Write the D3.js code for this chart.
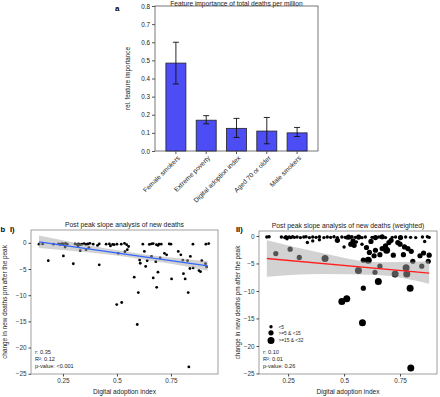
<!DOCTYPE html>
<html><head><meta charset="utf-8">
<script src="https://cdn.jsdelivr.net/npm/d3@7"></script>
<style>body{margin:0;background:#fff}svg{display:block}text{font-family:"Liberation Sans",Arial,sans-serif}</style>
</head><body>
<svg id="c" width="440" height="397"></svg>
<script>
// ---- Panel a data ----
const barCats = ["Female smokers","Extreme poverty","Digital adoption index","Aged 70 or older","Male smokers"];
const barVals = [0.485,0.17,0.125,0.11,0.10];
const barErrLo = [0.37,0.15,0.075,0.04,0.08];
const barErrHi = [0.60,0.195,0.18,0.185,0.13];
const barTicks = [0,0.1,0.2,0.3,0.4,0.5,0.6,0.7,0.8];

// ---- Panel b I data ----
const ptsIx = [0.139,0.156,0.206,0.23,0.238,0.245,0.252,0.262,0.27,0.306,0.315,0.322,0.33,0.338,0.348,0.357,0.366,0.375,0.39,0.418,0.45,0.465,0.48,0.487,0.5,0.52,0.535,0.545,0.62,0.65,0.66,0.668,0.683,0.695,0.705,0.742,0.75,0.852,0.912,0.925,
 0.26,0.32,0.37,0.41,0.47,0.554,0.69,
 0.182,0.252,0.298,0.33,0.357,0.418,0.506,0.537,0.548,0.58,0.605,0.608,0.627,0.633,0.64,0.66,0.668,0.68,0.684,0.69,0.70,0.72,0.73,0.753,0.784,0.796,0.805,0.808,0.816,0.827,0.84,0.853,0.88,0.893,0.91,0.915,0.838,0.887,
 0.599,0.83,0.499,0.522,0.594,0.833];
const ptsIy = [-0.25,-0.2,-0.25,-0.2,-0.3,-0.15,-0.2,-0.1,-0.25,-0.2,-0.3,-0.2,-0.35,-0.25,-0.15,-0.3,-0.2,-0.1,-0.25,-0.2,-0.25,-0.2,-0.3,-0.35,-0.25,-0.25,-0.1,-0.35,-0.25,-0.3,-0.2,-0.15,-0.35,-0.25,-0.25,-0.2,-0.25,-0.25,-0.25,-0.15,
 -0.8,-0.6,-0.9,-0.5,-0.6,-0.7,-0.5,
 -3.4,-2.5,-4.0,-1.5,-1.3,-4.2,-2.0,-1.7,-1.3,-6.55,-3.3,-3.9,-1.65,-4.5,-3.4,-2.6,-6.7,-3.6,-8.5,-5.6,-2.9,-2.0,-2.3,-6.9,-1.65,-2.3,-3.3,-5.9,-6.9,-3.4,-2.6,-4.8,-5.3,-3.4,-4.0,-4.6,-4.9,-5.5,
 -9.5,-9.5,-11.8,-11.4,-15.6,-23.7];
const fitIx = [0.139,0.92];
const fitIy = [0.2,-4.41];
const ciIx = [0.139,0.3,0.45,0.6,0.75,0.92];
const ciIlo = [-1.0,-1.55,-2.18,-3.02,-4.0,-5.31];
const ciIhi = [1.4,0.05,-1.08,-2.02,-2.8,-3.51];

// ---- Panel b II data ----
const ptsIIx = [0.155,0.165,0.22,0.235,0.24,0.248,0.255,0.262,0.27,0.278,0.29,0.305,0.32,0.33,0.345,0.36,0.375,0.39,0.41,0.425,0.44,0.455,0.47,0.49,0.505,0.512,0.52,0.528,0.535,0.55,0.565,0.58,0.595,0.625,0.64,0.655,0.67,0.685,0.715,0.73,0.752,0.775,0.797,0.82,0.85,0.872,0.88,
 0.245,0.336,0.36,0.39,0.47,0.5,0.53,0.545,0.555,0.6,0.613,0.634,0.64,0.66,0.67,0.685,0.69,0.70,0.72,0.75,0.765,0.77,0.785,0.80,0.807,0.839,0.847,0.855,0.876,0.88,0.86,0.58,0.54,0.62,0.71,0.74,
 0.195,0.259,0.30,0.415,0.564,0.586,0.608,0.586,0.638,0.653,0.66,0.728,0.777,0.78,0.795,0.49,0.512,0.582,0.798];
const ptsIIy = [-0.2,-0.15,-0.2,-0.3,-0.15,-0.25,-0.2,-0.3,-0.15,-0.25,-0.2,-0.3,-0.2,-0.15,-0.3,-0.2,-0.25,-0.15,-0.3,-0.2,-0.25,-0.15,-0.3,-0.2,-0.25,-0.35,-0.2,-0.3,-0.15,-0.25,-0.2,-0.3,-0.2,-0.25,-0.3,-0.2,-0.15,-0.3,-0.25,-0.2,-0.3,-0.2,-0.25,-0.3,-0.2,-0.15,-0.25,
 -0.5,-1.2,-0.9,-0.7,-0.8,-2.0,-1.5,-1.7,-1.1,-2.1,-3.0,-3.6,-2.6,-3.4,-2.3,-1.8,-2.6,-1.2,-3.5,-1.5,-3.4,-2.0,-2.3,-2.8,-4.6,-3.6,-5.5,-3.1,-4.6,-3.5,-1.0,-1.5,-0.9,-1.0,-0.8,-1.2,
 -3.2,-2.4,-3.9,-4.1,-6.3,-4.4,-4.4,-9.5,-6.6,-8.3,-5.5,-6.9,-5.8,-6.9,-9.5,-11.9,-11.4,-15.8,-24.0];
const ptsIIsize = [0,0,0,0,0,0,0,0,0,0,0,0,0,0,0,0,0,0,0,0,0,0,0,0,0,0,1,0,0,0,1,0,0,0,1,0,1,0,0,0,1,0,0,0,0,0,0,
 0,0,0,0,1,0,1,1,0,1,1,1,1,1,1,1,2,1,1,1,1,1,1,1,1,1,1,1,1,1,0,0,1,1,1,1,
 1,1,1,2,2,1,2,1,1,2,1,2,2,2,2,2,2,2,2];
const fitIIx = [0.155,0.88];
const fitIIy = [-4.1,-6.75];
const ciIIx = [0.155,0.4,0.65,0.88];
const ciIIlo = [-7.4,-6.9,-7.1,-8.7];
const ciIIhi = [-0.8,-3.1,-4.8,-4.6];
const sizeLabels = ["<5",">=5 & <15",">=15 & <32"];
const sizeR = [1.7,2.6,3.5];
const statsI = ["r: 0.35","R²: 0.12","p-value: <0.001"];
const statsII = ["r: 0.10","R²: 0.01","p-value: 0.26"];
const scatTicksX = [0.25,0.5,0.75];
const scatTicksY = [0,-5,-10,-15,-20,-25];

const svg = d3.select("#c");

// ================= Panel a =================
{
  const L=155,R=318,T=6,B=151;
  const x = d3.scaleBand().domain(barCats).range([L,R]).paddingInner(0.34).paddingOuter(0.36);
  const y = d3.scaleLinear().domain([0,0.8]).range([B,T]);
  const g = svg.append("g");
  g.append("rect").attr("x",L).attr("y",T).attr("width",R-L).attr("height",B-T)
    .attr("fill","none").attr("stroke","#555").attr("stroke-width",0.8);
  g.selectAll("rect.bar").data(barCats).join("rect").attr("class","bar")
    .attr("x",d=>x(d)).attr("width",x.bandwidth())
    .attr("y",(d,i)=>y(barVals[i])).attr("height",(d,i)=>B-y(barVals[i]))
    .attr("fill","#4d4df5").attr("stroke","#222").attr("stroke-width",0.8);
  barCats.forEach((c,i)=>{
    const cx = x(c)+x.bandwidth()/2;
    g.append("line").attr("x1",cx).attr("x2",cx).attr("y1",y(barErrLo[i])).attr("y2",y(barErrHi[i])).attr("stroke","#111").attr("stroke-width",0.9);
    [barErrLo[i],barErrHi[i]].forEach(v=>g.append("line").attr("x1",cx-3).attr("x2",cx+3).attr("y1",y(v)).attr("y2",y(v)).attr("stroke","#111").attr("stroke-width",0.9));
  });
  const ya = g.append("g").attr("transform",`translate(${L},0)`).call(d3.axisLeft(y).tickValues(barTicks).tickFormat(d3.format(".1f")).tickSize(3).tickSizeOuter(0));
  ya.select(".domain").remove();
  ya.selectAll("line").attr("stroke","#555");
  ya.selectAll("text").attr("font-size",6.3).attr("fill","#222").attr("x",-5);
  const xa = g.append("g").attr("transform",`translate(0,${B})`).call(d3.axisBottom(x).tickSize(3).tickSizeOuter(0));
  xa.select(".domain").remove();
  xa.selectAll("line").attr("stroke","#555");
  xa.selectAll("text").attr("font-size",6.6).attr("fill","#222")
    .attr("text-anchor","end").attr("transform","translate(3,6) rotate(-45)").attr("dy","0.3em").attr("y",0).attr("x",0);
  g.append("text").attr("x",(L+R)/2).attr("y",5.5).attr("text-anchor","middle").attr("font-size",6.6).attr("fill","#222").text("Feature importance of total deaths per million");
  g.append("text").attr("transform",`translate(130,${(T+B)/2}) rotate(-90)`).attr("text-anchor","middle").attr("font-size",6.3).attr("fill","#222").text("rel. feature importance");
  g.append("text").attr("x",115).attr("y",11).attr("font-size",8).attr("font-weight","bold").text("a");
}

// ================= scatter panels =================
function scatter(o){
  const {L,R,T,B,xd,yd,px,py,sizes,fx,fy,cx,clo,chi,lineColor,title,stats,legend,ylabX,tag,tagX} = o;
  const x = d3.scaleLinear().domain(xd).range([L,R]);
  const y = d3.scaleLinear().domain(yd).range([B,T]);
  const g = svg.append("g");
  g.selectAll("circle.p").data(px).join("circle").attr("class","p")
    .attr("cx",d=>x(d)).attr("cy",(d,i)=>y(py[i]))
    .attr("r",(d,i)=>sizes?sizeR[sizes[i]]:1.4).attr("fill","#000");
  const area = d3.area().x((d,i)=>x(cx[i])).y0((d,i)=>y(clo[i])).y1((d,i)=>y(chi[i])).curve(d3.curveMonotoneX);
  g.append("path").datum(cx).attr("d",area).attr("fill","#a6a6a6").attr("opacity",0.5);
  const line = d3.line().x((d,i)=>x(fx[i])).y((d,i)=>y(fy[i]));
  g.append("path").datum(fx).attr("d",line).attr("fill","none").attr("stroke",lineColor).attr("stroke-width",1.3);
  g.append("rect").attr("x",L).attr("y",T).attr("width",R-L).attr("height",B-T)
    .attr("fill","none").attr("stroke","#777").attr("stroke-width",0.7);
  const ya = g.append("g").attr("transform",`translate(${L},0)`).call(d3.axisLeft(y).tickValues(scatTicksY).tickSize(2.5).tickSizeOuter(0));
  ya.select(".domain").remove();
  ya.selectAll("line").attr("stroke","#444");
  ya.selectAll("text").attr("font-size",6.4).attr("fill","#333").attr("x",-4.5);
  const xa = g.append("g").attr("transform",`translate(0,${B})`).call(d3.axisBottom(x).tickValues(scatTicksX).tickFormat(d=>String(d)).tickSize(2.5).tickSizeOuter(0));
  xa.select(".domain").remove();
  xa.selectAll("line").attr("stroke","#444");
  xa.selectAll("text").attr("font-size",6.4).attr("fill","#333").attr("y",4.5);
  g.append("text").attr("x",(L+R)/2).attr("y",T-3).attr("text-anchor","middle").attr("font-size",6.8).attr("fill","#222").text(title);
  g.append("text").attr("x",(L+R)/2).attr("y",394).attr("text-anchor","middle").attr("font-size",6.6).attr("fill","#222").text("Digital adoption index");
  g.append("text").attr("transform",`translate(${ylabX},${(T+B)/2}) rotate(-90)`).attr("text-anchor","middle").attr("font-size",6.4).attr("fill","#222").text("change in new deaths pm after the peak");
  stats.forEach((s,i)=>g.append("text").attr("x",L+4).attr("y",353.5+i*7.3).attr("font-size",5.6).attr("fill","#222").text(s));
  if(legend){
    const ly=[326.7,332.8,340.5];
    sizeLabels.forEach((s,i)=>{
      g.append("circle").attr("cx",L+12).attr("cy",ly[i]).attr("r",sizeR[i]).attr("fill","#000");
      g.append("text").attr("x",L+19.5).attr("y",ly[i]+1.8).attr("font-size",4.8).attr("fill","#222").text(s);
    });
  }
  g.append("text").attr("x",tagX).attr("y",232).attr("font-size",7.5).attr("font-weight","bold").text(tag);
}

scatter({L:31,R:218,T:230,B:374,xd:[0.102,0.968],yd:[-25.05,2.45],px:ptsIx,py:ptsIy,sizes:null,
  fx:fitIx,fy:fitIy,cx:ciIx,clo:ciIlo,chi:ciIhi,lineColor:"#3366ff",
  title:"Post peak slope analysis of new deaths",stats:statsI,legend:false,ylabX:7,tag:"I)",tagX:10});
svg.append("text").attr("x",0.5).attr("y",232).attr("font-size",7.5).attr("font-weight","bold").text("b");

scatter({L:259,R:437,T:231,B:374,xd:[0.12,0.915],yd:[-25.1,0.9],px:ptsIIx,py:ptsIIy,sizes:ptsIIsize,
  fx:fitIIx,fy:fitIIy,cx:ciIIx,clo:ciIIlo,chi:ciIIhi,lineColor:"#ff2020",
  title:"Post peak slope analysis of new deaths (weighted)",stats:statsII,legend:true,ylabX:240,tag:"II)",tagX:236});
</script>
</body></html>
